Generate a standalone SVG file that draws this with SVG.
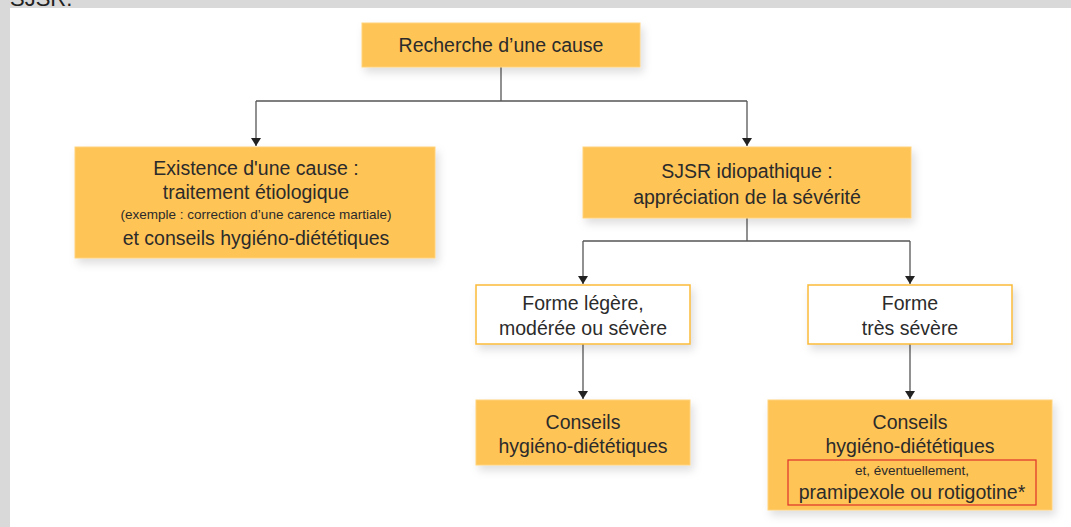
<svg xmlns="http://www.w3.org/2000/svg" width="1071" height="527" viewBox="0 0 1071 527">
<style>
text{font-family:"Liberation Sans",Arial,sans-serif;fill:#2b2b2b;text-anchor:middle}
.f{fill:#FFC457;stroke:#FFD27A;stroke-width:1}
.w{fill:#ffffff;stroke:#FBBA38;stroke-width:1.5}
.l{fill:none;stroke:#555;stroke-width:1.3}
.t{font-size:19.5px}
.s{font-size:13.5px}
</style>
<defs>
<filter id="sh" x="-10%" y="-20%" width="130%" height="160%">
<feDropShadow dx="3" dy="5" stdDeviation="4" flood-color="#000" flood-opacity="0.13"/>
</filter>
<marker id="ar" markerWidth="10" markerHeight="10" refX="8" refY="5" orient="auto" markerUnits="userSpaceOnUse" viewBox="0 0 10 10">
<path d="M0,0 L8,5 L0,10 Z" fill="#222"/>
</marker>
</defs>
<rect x="0" y="0" width="1071" height="527" fill="#d9d9d9"/>
<rect x="10" y="8" width="1061" height="519" fill="#ffffff"/>
<text x="10" y="6" style="font-size:22px;text-anchor:start;fill:#222">SJSR.</text>

<g id="connectors">
<path class="l" d="M501,67 V101"/>
<path class="l" d="M256,101 H747"/>
<path class="l" d="M256,101 V146" marker-end="url(#ar)"/>
<path class="l" d="M747,101 V146" marker-end="url(#ar)"/>
<path class="l" d="M747,218 V241"/>
<path class="l" d="M583,241 H910"/>
<path class="l" d="M583,241 V284" marker-end="url(#ar)"/>
<path class="l" d="M910,241 V284" marker-end="url(#ar)"/>
<path class="l" d="M583,344 V399" marker-end="url(#ar)"/>
<path class="l" d="M910,344 V399" marker-end="url(#ar)"/>
</g>

<g id="recherche">
<rect class="f" x="362" y="23" width="278" height="44" filter="url(#sh)"/>
<text class="t" x="501" y="52">Recherche d’une cause</text>
</g>

<g id="existence">
<rect class="f" x="75" y="147" width="360" height="111" filter="url(#sh)"/>
<text class="t" x="256" y="175">Existence d'une cause :</text>
<text class="t" x="256" y="199">traitement étiologique</text>
<text class="s" x="256" y="219">(exemple : correction d’une carence martiale)</text>
<text class="t" x="256" y="245">et conseils hygiéno-diététiques</text>
</g>

<g id="idiopathique">
<rect class="f" x="583" y="147" width="328" height="71" filter="url(#sh)"/>
<text class="t" x="747" y="178">SJSR idiopathique :</text>
<text class="t" x="747" y="204">appréciation de la sévérité</text>
</g>

<g id="legere">
<rect class="w" x="476" y="285" width="214" height="59" filter="url(#sh)"/>
<text class="t" x="583" y="310">Forme légère,</text>
<text class="t" x="583" y="335">modérée ou sévère</text>
</g>

<g id="tres-severe">
<rect class="w" x="808" y="285" width="204" height="59" filter="url(#sh)"/>
<text class="t" x="910" y="310">Forme</text>
<text class="t" x="910" y="335">très sévère</text>
</g>

<g id="conseils1">
<rect class="f" x="476" y="400" width="214" height="65" filter="url(#sh)"/>
<text class="t" x="583" y="429">Conseils</text>
<text class="t" x="583" y="453">hygiéno-diététiques</text>
</g>

<g id="conseils2">
<rect class="f" x="768" y="400" width="284" height="110" filter="url(#sh)"/>
<text class="t" x="910" y="429">Conseils</text>
<text class="t" x="910" y="453">hygiéno-diététiques</text>
<rect x="788" y="460" width="248" height="45" fill="none" stroke="#E0312B" stroke-width="1.2"/>
<text class="s" x="912" y="475">et, éventuellement,</text>
<text class="t" x="912" y="499">pramipexole ou rotigotine*</text>
</g>
</svg>
